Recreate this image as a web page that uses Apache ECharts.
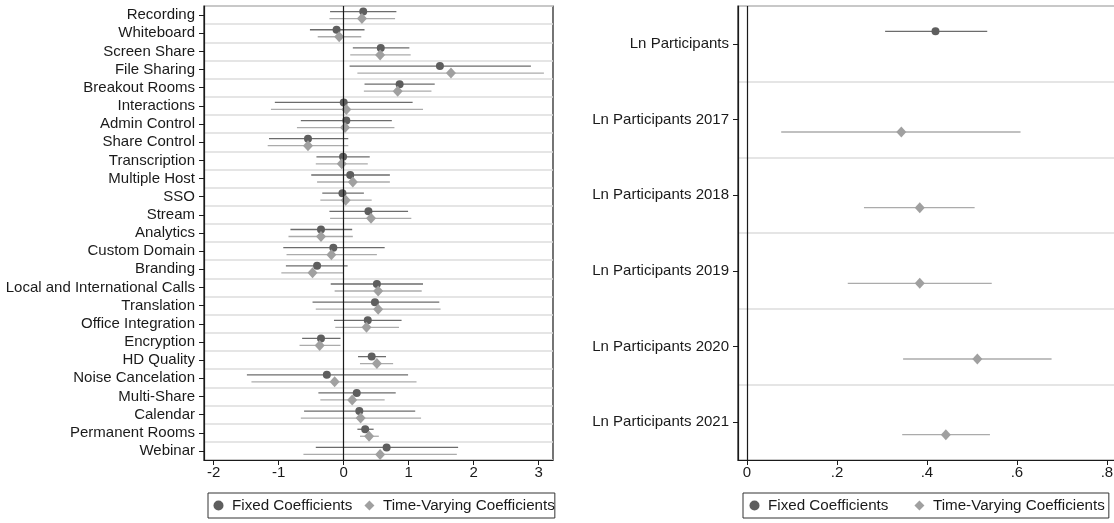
<!DOCTYPE html>
<html>
<head>
<meta charset="utf-8">
<title>Coefficient plot</title>
<script src="https://cdn.jsdelivr.net/npm/echarts@6/dist/echarts.min.js"></script>
<style>
  html, body { margin: 0; padding: 0; background: #fff; }
  #chart { width: 1114px; height: 523px; }
</style>
</head>
<body>
<div id="chart"></div>
<script>
// left panel: features
const features = ['Recording', 'Whiteboard', 'Screen Share', 'File Sharing', 'Breakout Rooms',
  'Interactions', 'Admin Control', 'Share Control', 'Transcription', 'Multiple Host', 'SSO',
  'Stream', 'Analytics', 'Custom Domain', 'Branding', 'Local and International Calls',
  'Translation', 'Office Integration', 'Encryption', 'HD Quality', 'Noise Cancelation',
  'Multi-Share', 'Calendar', 'Permanent Rooms', 'Webinar']
const fixedCoef = [0.30, -0.11, 0.57, 1.48, 0.86, 0.00, 0.04, -0.55, -0.01, 0.10, -0.02, 0.38, -0.35,
  -0.16, -0.41, 0.51, 0.48, 0.37, -0.35, 0.43, -0.26, 0.20, 0.24, 0.33, 0.66]
const fixedLo = [-0.21, -0.52, 0.14, 0.09, 0.32, -1.06, -0.66, -1.15, -0.42, -0.50, -0.33, -0.22, -0.82,
  -0.93, -0.89, -0.20, -0.48, -0.15, -0.64, 0.22, -1.49, -0.39, -0.61, 0.21, -0.43]
const fixedHi = [0.81, 0.32, 1.01, 2.88, 1.40, 1.06, 0.74, 0.07, 0.40, 0.71, 0.31, 0.99, 0.13,
  0.63, 0.06, 1.22, 1.47, 0.89, -0.05, 0.65, 0.99, 0.80, 1.10, 0.46, 1.76]
const tvCoef = [0.28, -0.07, 0.56, 1.65, 0.83, 0.04, 0.02, -0.55, -0.03, 0.14, 0.03, 0.42, -0.35,
  -0.19, -0.48, 0.53, 0.53, 0.35, -0.37, 0.51, -0.14, 0.13, 0.26, 0.39, 0.56]
const tvLo = [-0.22, -0.40, 0.10, 0.21, 0.31, -1.12, -0.72, -1.17, -0.43, -0.41, -0.36, -0.21, -0.85,
  -0.88, -0.96, -0.14, -0.43, -0.13, -0.68, 0.25, -1.42, -0.36, -0.66, 0.25, -0.62]
const tvHi = [0.79, 0.27, 1.03, 3.08, 1.35, 1.22, 0.78, 0.07, 0.37, 0.71, 0.43, 1.04, 0.14,
  0.51, 0.00, 1.20, 1.49, 0.85, -0.05, 0.76, 1.12, 0.63, 1.19, 0.54, 1.74]
const leftTicks = [-2, -1, 0, 1, 2, 3]

// right panel: participants
const partLabels = ['Ln Participants', 'Ln Participants 2017', 'Ln Participants 2018',
  'Ln Participants 2019', 'Ln Participants 2020', 'Ln Participants 2021']
const partFixedCoef = [0.419, null, null, null, null, null]
const partFixedLo = [0.307, null, null, null, null, null]
const partFixedHi = [0.534, null, null, null, null, null]
const partTvCoef = [null, 0.343, 0.384, 0.384, 0.512, 0.442]
const partTvLo = [null, 0.076, 0.260, 0.224, 0.347, 0.345]
const partTvHi = [null, 0.608, 0.506, 0.544, 0.677, 0.540]
const rightTicks = [0, 0.2, 0.4, 0.6, 0.8]

const FONT = '"Liberation Sans", Arial, sans-serif'
const INK = '#1a1a1a'
const DARK = '#5e5e5e'
const DARK_LINE = '#6c6c6c'
const LIGHT = '#a0a0a0'
const LIGHT_LINE = '#ababab'

function ciRows(lo, hi) {
  return lo.map((v, i) => (v == null ? null : [i, v, hi[i]])).filter(Boolean)
}
function points(coef) {
  return coef.map((v, i) => (v == null ? null : [v, i])).filter(Boolean)
}
function ciRenderer(offset) {
  return function(params, api) {
    const cat = api.value(0)
    const a = api.coord([api.value(1), cat])
    const b = api.coord([api.value(2), cat])
    return {
      type: 'line',
      shape: { x1: a[0], y1: a[1] + offset, x2: b[0], y2: b[1] + offset },
      style: { stroke: api.visual('color'), lineWidth: 1.3 }
    }
  }
}
function valueAxis(gridIndex, min, max, ticks, fmt) {
  return {
    gridIndex, type: 'value', min, max,
    axisLine: { show: true, onZero: false, lineStyle: { color: INK, width: 1.2 } },
    axisTick: { show: true, length: 5, customValues: ticks, lineStyle: { color: INK } },
    axisLabel: { customValues: ticks, formatter: fmt, color: INK, fontSize: 15, fontFamily: FONT, margin: 5 },
    splitLine: { show: false }
  }
}
function catAxis(gridIndex, data) {
  return {
    gridIndex, type: 'category', data, inverse: true,
    axisLine: { show: true, onZero: false, lineStyle: { color: INK, width: 1.2 } },
    axisTick: { show: true, alignWithLabel: true, interval: 0, length: 5, lineStyle: { color: INK } },
    axisLabel: { interval: 0, color: INK, fontSize: 15, fontFamily: FONT, margin: 9 },
    splitLine: { show: true, interval: 0, lineStyle: { color: '#dcdcdc', width: 1.5 } }
  }
}
const zeroLine = {
  silent: true, symbol: 'none', label: { show: false },
  lineStyle: { color: INK, width: 1.2, type: 'solid' },
  data: [{ xAxis: 0 }]
}
function legend(left, gap, padL, padR) {
  return {
    left, top: 493, orient: 'horizontal', selectedMode: false,
    data: [{ name: 'Fixed Coefficients', icon: 'circle' }, { name: 'Time-Varying Coefficients', icon: 'diamond' }],
    itemWidth: 10, itemHeight: 10, itemGap: gap,
    padding: [5, padR, 5, padL], borderColor: '#333', borderWidth: 1,
    textStyle: { color: INK, fontSize: 15.2, fontFamily: FONT, padding: [0, 0, 0, 3.5] }
  }
}

const chart = echarts.init(document.getElementById('chart'))
chart.setOption({
  animation: false,
  backgroundColor: '#fff',
  textStyle: { fontFamily: FONT },
  legend: [legend(208, 12, 5.5, 0), legend(743, 26, 6.5, 4)],
  grid: [
    { left: 204, top: 6, width: 349, height: 454, show: true, borderColor: INK, borderWidth: 1.2, outerBoundsMode: 'none', containLabel: false },
    { left: 738, top: 6, width: 386, height: 454, show: true, borderColor: INK, borderWidth: 1.2, outerBoundsMode: 'none', containLabel: false }
  ],
  xAxis: [
    valueAxis(0, -2.15, 3.22, leftTicks, v => String(v)),
    valueAxis(1, -0.02, 0.838, rightTicks, v => (v === 0 ? '0' : v.toFixed(1).replace(/^0/, '')))
  ],
  yAxis: [catAxis(0, features), catAxis(1, partLabels)],
  series: [
    {
      name: 'Fixed CI', type: 'custom', xAxisIndex: 0, yAxisIndex: 0, z: 2,
      renderItem: ciRenderer(-3.5), itemStyle: { color: DARK_LINE },
      encode: { x: [1, 2], y: 0 }, data: ciRows(fixedLo, fixedHi)
    },
    {
      name: 'Time-Varying CI', type: 'custom', xAxisIndex: 0, yAxisIndex: 0, z: 2,
      renderItem: ciRenderer(3.5), itemStyle: { color: LIGHT_LINE },
      encode: { x: [1, 2], y: 0 }, data: ciRows(tvLo, tvHi)
    },
    {
      name: 'Fixed Coefficients', type: 'scatter', xAxisIndex: 0, yAxisIndex: 0, z: 3,
      symbol: 'circle', symbolSize: 8, symbolOffset: [0, -3.5],
      itemStyle: { color: DARK, opacity: 1 }, markLine: zeroLine,
      data: points(fixedCoef)
    },
    {
      name: 'Time-Varying Coefficients', type: 'scatter', xAxisIndex: 0, yAxisIndex: 0, z: 4,
      symbol: 'diamond', symbolSize: [10, 11], symbolOffset: [0, 3.5],
      itemStyle: { color: LIGHT, opacity: 1 },
      data: points(tvCoef)
    },
    {
      name: 'Fixed CI', type: 'custom', xAxisIndex: 1, yAxisIndex: 1, z: 2,
      renderItem: ciRenderer(-12.5), itemStyle: { color: DARK_LINE },
      encode: { x: [1, 2], y: 0 }, data: ciRows(partFixedLo, partFixedHi)
    },
    {
      name: 'Time-Varying CI', type: 'custom', xAxisIndex: 1, yAxisIndex: 1, z: 2,
      renderItem: ciRenderer(12.5), itemStyle: { color: LIGHT_LINE },
      encode: { x: [1, 2], y: 0 }, data: ciRows(partTvLo, partTvHi)
    },
    {
      name: 'Fixed Coefficients', type: 'scatter', xAxisIndex: 1, yAxisIndex: 1, z: 3,
      symbol: 'circle', symbolSize: 8, symbolOffset: [0, -12.5],
      itemStyle: { color: DARK, opacity: 1 }, markLine: zeroLine,
      data: points(partFixedCoef)
    },
    {
      name: 'Time-Varying Coefficients', type: 'scatter', xAxisIndex: 1, yAxisIndex: 1, z: 4,
      symbol: 'diamond', symbolSize: [10, 11], symbolOffset: [0, 12.5],
      itemStyle: { color: LIGHT, opacity: 1 },
      data: points(partTvCoef)
    }
  ]
})
</script>
</body>
</html>
